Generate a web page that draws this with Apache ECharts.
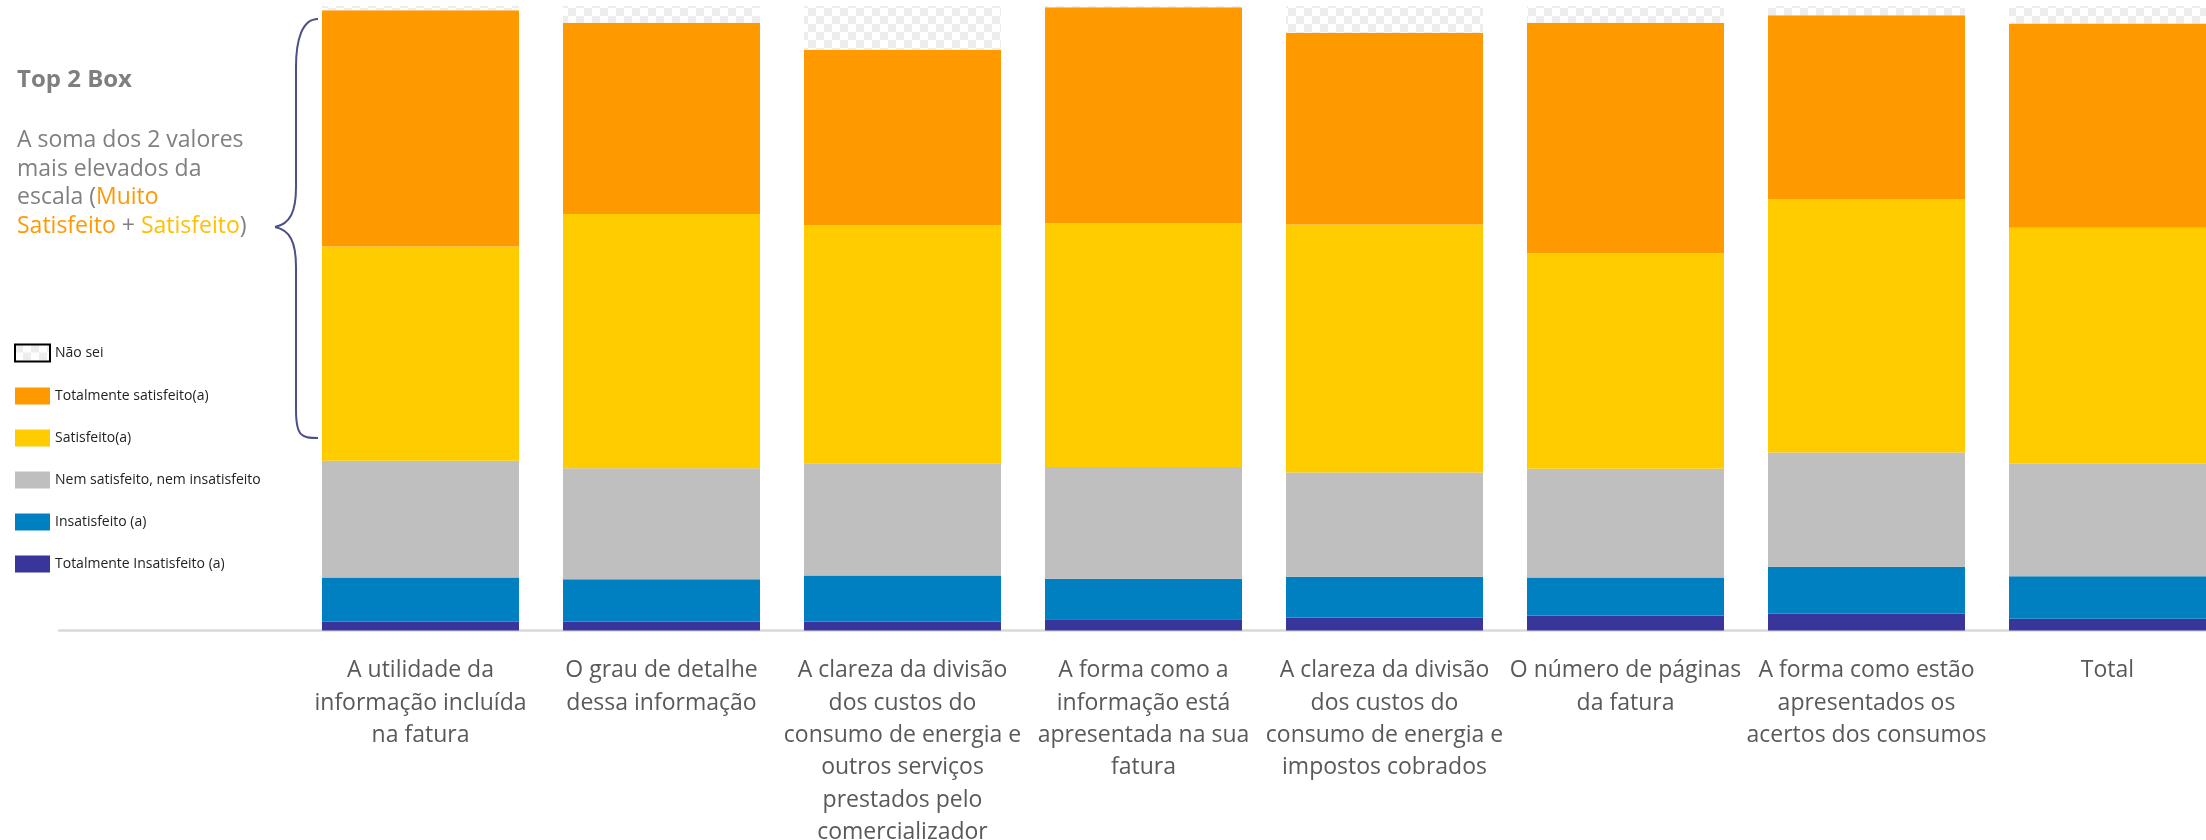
<!DOCTYPE html>
<html>
<head>
<meta charset="utf-8">
<script src="https://cdn.jsdelivr.net/npm/echarts@6/dist/echarts.min.js"></script>
<style>
  html, body { margin: 0; padding: 0; background: #ffffff; }
  #chart { width: 2206px; height: 840px; }
</style>
</head>
<body>
<div id="chart"></div>
<script>
// Satisfaction with the invoice, % of respondents per aspect
const categories = [
  'A utilidade da\ninformação incluída\nna fatura',
  'O grau de detalhe\ndessa informação',
  'A clareza da divisão\ndos custos do\nconsumo de energia e\noutros serviços\nprestados pelo\ncomercializador',
  'A forma como a\ninformação está\napresentada na sua\nfatura',
  'A clareza da divisão\ndos custos do\nconsumo de energia e\nimpostos cobrados',
  'O número de páginas\nda fatura',
  'A forma como estão\napresentados os\nacertos dos consumos',
  'Total'
];

const totalmenteInsatisfeito = [1.4, 1.4, 1.4, 1.8, 2.1, 2.4, 2.7, 1.9];
const insatisfeito           = [7.1, 6.8, 7.4, 6.5, 6.5, 6.1, 7.5, 6.8];
const nemNem                 = [18.7, 17.8, 18.0, 17.9, 16.7, 17.4, 18.3, 18.0];
const satisfeito             = [34.3, 40.7, 38.1, 39.0, 39.7, 34.5, 40.5, 37.8];
const totalmenteSatisfeito   = [37.8, 30.6, 28.1, 34.6, 30.7, 36.9, 29.5, 32.7];
const naoSei                 = [0.7, 2.7, 7.0, 0.2, 4.3, 2.7, 1.5, 2.8];

const seriesNames = {
  ns: 'Não sei',
  ts: 'Totalmente satisfeito(a)',
  s: 'Satisfeito(a)',
  n: 'Nem satisfeito, nem insatisfeito',
  i: 'Insatisfeito (a)',
  ti: 'Totalmente Insatisfeito (a)'
};

// Light checkerboard fill for the "don't know" segment
function checkerPattern() {
  const c = document.createElement('canvas');
  c.width = 16; c.height = 16;
  const g = c.getContext('2d');
  g.fillStyle = '#ffffff';
  g.fillRect(0, 0, 16, 16);
  g.fillStyle = '#ededed';
  g.fillRect(0, 0, 8, 8);
  g.fillRect(8, 8, 8, 8);
  return { image: c, repeat: 'repeat' };
}

// A blank leading slot keeps the baseline running out to the left
const axisData = [''].concat(categories);
const withLead = arr => [null].concat(arr);

const chart = echarts.init(document.getElementById('chart'), null, { renderer: 'canvas' });

function barSeries(name, data, color) {
  return {
    name: name,
    type: 'bar',
    stack: 'total',
    barWidth: 197,
    data: withLead(data),
    itemStyle: { color: color },
    emphasis: { disabled: true },
    animation: false
  };
}

// Curly brace beside the two top boxes
const braceStyle = { fill: null, stroke: '#4b5089', lineWidth: 2 };
const brace = [
  { type: 'bezierCurve', shape: { x1: 318, y1: 19, cpx1: 302, cpy1: 19, cpx2: 296, cpy2: 40, x2: 296, y2: 67 } },
  { type: 'line', shape: { x1: 296, y1: 67, x2: 296, y2: 187 } },
  { type: 'bezierCurve', shape: { x1: 296, y1: 187, cpx1: 296, cpy1: 212, cpx2: 290, cpy2: 224, x2: 275, y2: 227 } },
  { type: 'bezierCurve', shape: { x1: 275, y1: 227, cpx1: 290, cpy1: 230, cpx2: 296, cpy2: 242, x2: 296, y2: 267 } },
  { type: 'line', shape: { x1: 296, y1: 267, x2: 296, y2: 410 } },
  { type: 'bezierCurve', shape: { x1: 296, y1: 410, cpx1: 296, cpy1: 437, cpx2: 302, cpy2: 438, x2: 318, y2: 438 } }
].map(el => Object.assign(el, { style: braceStyle, silent: true }));

const option = {
  animation: false,
  backgroundColor: '#ffffff',
  textStyle: { fontFamily: '"Open Sans", "Noto Sans", sans-serif' },
  grid: {
    left: 59, width: 2169, top: 6, bottom: 209.5,
    containLabel: false,
    outerBoundsMode: 'none'
  },
  legend: {
    orient: 'vertical',
    left: 14,
    top: 343.5,
    padding: 0,
    itemWidth: 35,
    itemHeight: 17,
    itemGap: 25,
    icon: 'rect',
    selectedMode: false,
    textStyle: { fontFamily: '"Open Sans", sans-serif', fontSize: 14, color: '#222222' },
    data: [
      { name: seriesNames.ns, itemStyle: { borderColor: '#000000', borderWidth: 2 } },
      seriesNames.ts, seriesNames.s, seriesNames.n, seriesNames.i, seriesNames.ti
    ]
  },
  xAxis: {
    type: 'category',
    data: axisData,
    axisTick: { show: false },
    axisLine: { show: true, lineStyle: { color: '#d9d9d9', width: 2.5 } },
    axisLabel: {
      interval: 0,
      margin: 24,
      color: '#595959',
      fontSize: 23,
      lineHeight: 32.4,
      align: 'center',
      hideOverlap: false,
      fontFamily: '"Open Sans", sans-serif'
    },
    splitLine: { show: false }
  },
  yAxis: {
    type: 'value',
    min: 0,
    max: 100,
    show: false
  },
  series: [
    barSeries(seriesNames.ti, totalmenteInsatisfeito, '#38369A'),
    barSeries(seriesNames.i, insatisfeito, '#0080C0'),
    barSeries(seriesNames.n, nemNem, '#BFBFBF'),
    barSeries(seriesNames.s, satisfeito, '#FFCC00'),
    barSeries(seriesNames.ts, totalmenteSatisfeito, '#FF9900'),
    barSeries(seriesNames.ns, naoSei, checkerPattern())
  ],
  graphic: [
    {
      type: 'text',
      x: 17,
      y: 80,
      style: {
        text: 'Top 2 Box',
        fontSize: 24,
        fontWeight: 'bold',
        fontFamily: '"Open Sans", sans-serif',
        fill: '#7f7f7f',
        verticalAlign: 'middle'
      }
    },
    {
      type: 'text',
      x: 17,
      y: 126.4,
      style: {
        text: 'A soma dos 2 valores\nmais elevados da\nescala ({o|Muito}\n{o|Satisfeito} + {y|Satisfeito})',
        fontSize: 23,
        fontFamily: '"Open Sans", sans-serif',
        fill: '#808080',
        lineHeight: 28.6,
        verticalAlign: 'top',
        rich: {
          o: { fill: '#FF9900', fontSize: 23, fontFamily: '"Open Sans", sans-serif', lineHeight: 28.6 },
          y: { fill: '#FFC000', fontSize: 23, fontFamily: '"Open Sans", sans-serif', lineHeight: 28.6 }
        }
      }
    }
  ].concat(brace)
};

chart.setOption(option);
</script>
</body>
</html>
